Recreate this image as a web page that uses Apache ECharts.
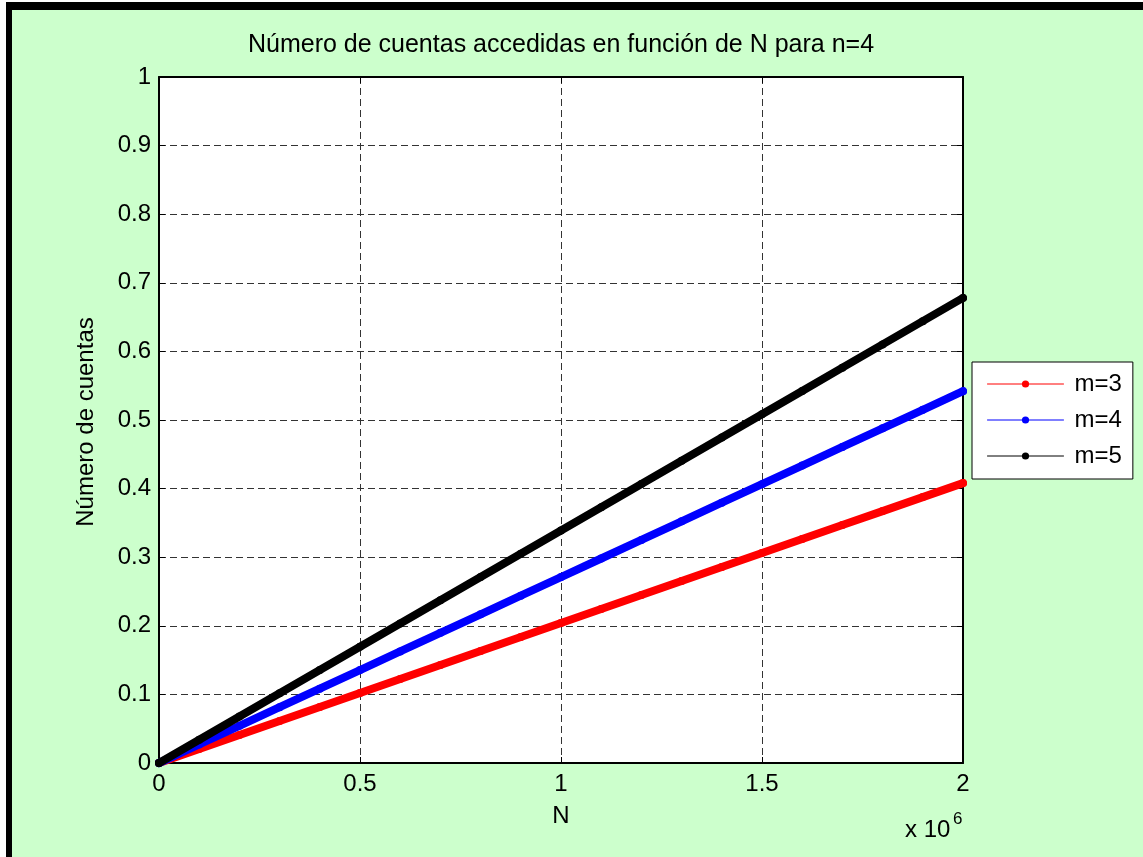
<!DOCTYPE html>
<html>
<head>
<meta charset="utf-8">
<title>Número de cuentas accedidas en función de N para n=4</title>
<script src="https://cdn.jsdelivr.net/npm/echarts@6/dist/echarts.min.js"></script>
<style>
  html, body { margin: 0; padding: 0; background: #ffffff; }
  #chart { width: 1143px; height: 857px; }
</style>
</head>
<body>
<div id="chart"></div>
<script>
// N values (x axis) and number of accessed accounts for each m
const N = [0, 100000, 200000, 300000, 400000, 500000, 600000, 700000, 800000, 900000,
           1000000, 1100000, 1200000, 1300000, 1400000, 1500000, 1600000, 1700000, 1800000, 1900000, 2000000];
const m3 = [0, 0.0204, 0.0408, 0.0612, 0.0816, 0.102, 0.1224, 0.1428, 0.1632, 0.1836,
            0.204, 0.2244, 0.2448, 0.2652, 0.2856, 0.306, 0.3264, 0.3468, 0.3672, 0.3876, 0.408];
const m4 = [0, 0.0271, 0.0542, 0.0813, 0.1084, 0.1355, 0.1626, 0.1897, 0.2168, 0.2439,
            0.271, 0.2981, 0.3252, 0.3523, 0.3794, 0.4065, 0.4336, 0.4607, 0.4878, 0.5149, 0.542];
const m5 = [0, 0.0339, 0.0678, 0.1017, 0.1356, 0.1695, 0.2034, 0.2373, 0.2712, 0.3051,
            0.339, 0.3729, 0.4068, 0.4407, 0.4746, 0.5085, 0.5424, 0.5763, 0.6102, 0.6441, 0.678];
const seriesNames = ['m=3', 'm=4', 'm=5'];
const seriesColors = ['#ff0000', '#0000ff', '#000000'];
const xTickLabels = ['0', '0.5', '1', '1.5', '2'];

const FONT = "'Liberation Sans', Arial, Helvetica, sans-serif";
const GRID = { left: 159, top: 77, width: 804, height: 686 };

const chart = echarts.init(document.getElementById('chart'), null, { renderer: 'canvas' });

function pairs(ys) { return N.map((x, i) => [x, ys[i]]); }

const lineSeries = [m3, m4, m5].map((ys, i) => ({
  name: seriesNames[i],
  type: 'line',
  data: pairs(ys),
  xAxisIndex: 0,
  yAxisIndex: 0,
  clip: false,
  symbol: 'circle',
  symbolSize: 8,
  showSymbol: true,
  color: seriesColors[i],
  lineStyle: { width: 8, color: seriesColors[i], cap: 'round', join: 'round' },
  itemStyle: { color: seriesColors[i] },
  emphasis: { disabled: true },
  animation: false,
  z: 3 + i
}));

const mainAxisLine = { show: true, lineStyle: { color: '#000', width: 2 } };
const tickInside = { show: true, inside: true, length: 6, lineStyle: { color: '#000', width: 1 } };
const dashedGrid = { show: true, lineStyle: { color: '#333', width: 1, type: [7, 4] } };

const option = {
  backgroundColor: '#ccffcc',
  animation: false,
  grid: Object.assign({ show: true, backgroundColor: '#ffffff', borderColor: '#000', borderWidth: 1 }, GRID),
  xAxis: [
    {
      type: 'value', min: 0, max: 2000000, interval: 500000, position: 'bottom',
      axisLine: Object.assign({ onZero: false }, mainAxisLine),
      axisTick: tickInside,
      axisLabel: {
        margin: 9, color: '#000', fontSize: 24, fontFamily: FONT,
        formatter: v => xTickLabels[Math.round(v / 500000)]
      },
      splitLine: dashedGrid
    },
    {
      type: 'value', min: 0, max: 2000000, interval: 500000, position: 'top',
      axisLine: Object.assign({ onZero: false }, mainAxisLine),
      axisTick: tickInside,
      axisLabel: { show: false },
      splitLine: { show: false }
    }
  ],
  yAxis: [
    {
      type: 'value', min: 0, max: 1, interval: 0.1, position: 'left',
      axisLine: Object.assign({ onZero: false }, mainAxisLine),
      axisTick: tickInside,
      axisLabel: {
        margin: 8, color: '#000', fontSize: 24, fontFamily: FONT,
        formatter: v => String(Math.round(v * 10) / 10)
      },
      splitLine: dashedGrid
    },
    {
      type: 'value', min: 0, max: 1, interval: 0.1, position: 'right',
      axisLine: Object.assign({ onZero: false }, mainAxisLine),
      axisTick: tickInside,
      axisLabel: { show: false },
      splitLine: { show: false }
    }
  ],
  legend: {
    orient: 'vertical',
    left: 972,
    top: 362,
    padding: [10, 11, 11, 15],
    itemGap: 12,
    itemWidth: 76,
    itemHeight: 9,
    backgroundColor: '#ffffff',
    borderColor: '#000',
    borderWidth: 1,
    borderRadius: 0,
    selectedMode: false,
    data: seriesNames,
    lineStyle: { width: 1 },
    textStyle: { color: '#000', fontSize: 24, fontFamily: FONT, lineHeight: 24, padding: [0, 0, 0, 6] }
  },
  series: lineSeries,
  graphic: [
    // figure frame strips
    { type: 'rect', left: 0, top: 0, shape: { width: 6, height: 857 }, style: { fill: '#ffffff' }, silent: true },
    { type: 'rect', left: 0, top: 0, shape: { width: 1143, height: 2 }, style: { fill: '#ffffff' }, silent: true },
    { type: 'rect', left: 6, top: 2, shape: { width: 6, height: 855 }, style: { fill: '#000000' }, silent: true },
    { type: 'rect', left: 6, top: 2, shape: { width: 1137, height: 8 }, style: { fill: '#000000' }, silent: true },
    // title
    {
      type: 'text', x: 561, y: 45, silent: true,
      style: { text: 'Número de cuentas accedidas en función de N para n=4', fill: '#000',
               font: '25px ' + FONT, textAlign: 'center', textVerticalAlign: 'middle' }
    },
    // y-axis title
    {
      type: 'text', x: 86, y: 422, rotation: Math.PI / 2, silent: true,
      style: { text: 'Número de cuentas', fill: '#000',
               font: '24px ' + FONT, textAlign: 'center', textVerticalAlign: 'middle' }
    },
    // x-axis title
    {
      type: 'text', x: 561, y: 816, silent: true,
      style: { text: 'N', fill: '#000', font: '24px ' + FONT, textAlign: 'center', textVerticalAlign: 'middle' }
    },
    // x-axis multiplier
    {
      type: 'text', x: 905, y: 830, silent: true,
      style: { text: 'x 10', fill: '#000', font: '24px ' + FONT, textAlign: 'left', textVerticalAlign: 'middle' }
    },
    {
      type: 'text', x: 953, y: 819, silent: true,
      style: { text: '6', fill: '#000', font: '17px ' + FONT, textAlign: 'left', textVerticalAlign: 'middle' }
    }
  ]
};

chart.setOption(option);
</script>
</body>
</html>
